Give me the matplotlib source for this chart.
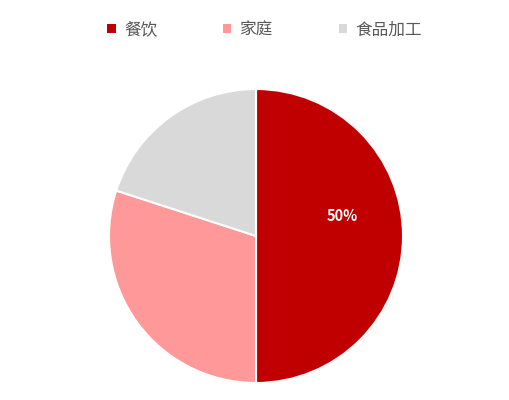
import matplotlib
matplotlib.use('Agg')
import matplotlib.pyplot as plt
from matplotlib.patches import Patch

plt.rcParams['font.family'] = ['Noto Sans CJK SC', 'DejaVu Sans']

# ── 数据 ──────────────────────────────────────────────
labels = ['餐饮', '家庭', '食品加工']
shares = [50, 30, 20]
colors = ['#C00000', '#FF9999', '#D9D9D9']

fig = plt.figure(figsize=(5.1, 4.0), dpi=100)
# 饼图区域：中心约 (256, 236) px，半径约 147 px
ax = fig.add_axes([(256 - 147) / 510, 1 - (236 + 147) / 400, 294 / 510, 294 / 400])

wedges, texts, autotexts = ax.pie(
    shares, colors=colors, startangle=90, counterclock=False,
    autopct=lambda p: f'{p:.0f}%' if p >= 40 else '',
    pctdistance=0.6,
    wedgeprops=dict(edgecolor='white', linewidth=1.5),
    textprops=dict(color='white', fontsize=10.5, fontweight='bold'),
)
# Excel 风格标签位置，略高于扇区中线
autotexts[0].set_position((0.59, 0.135))
ax.set_xlim(-1, 1)
ax.set_ylim(-1, 1)
ax.set_aspect('equal')

handles = [Patch(facecolor=c, edgecolor='none') for c in colors]
fig.legend(handles, labels, loc='center', bbox_to_anchor=(0.519, 0.925),
           ncol=3, frameon=False, fontsize=12, labelcolor='#595959',
           handlelength=0.5, handleheight=0.5, handletextpad=0.5,
           columnspacing=3.95)

fig.savefig('out.png', dpi=100)
plt.close(fig)
